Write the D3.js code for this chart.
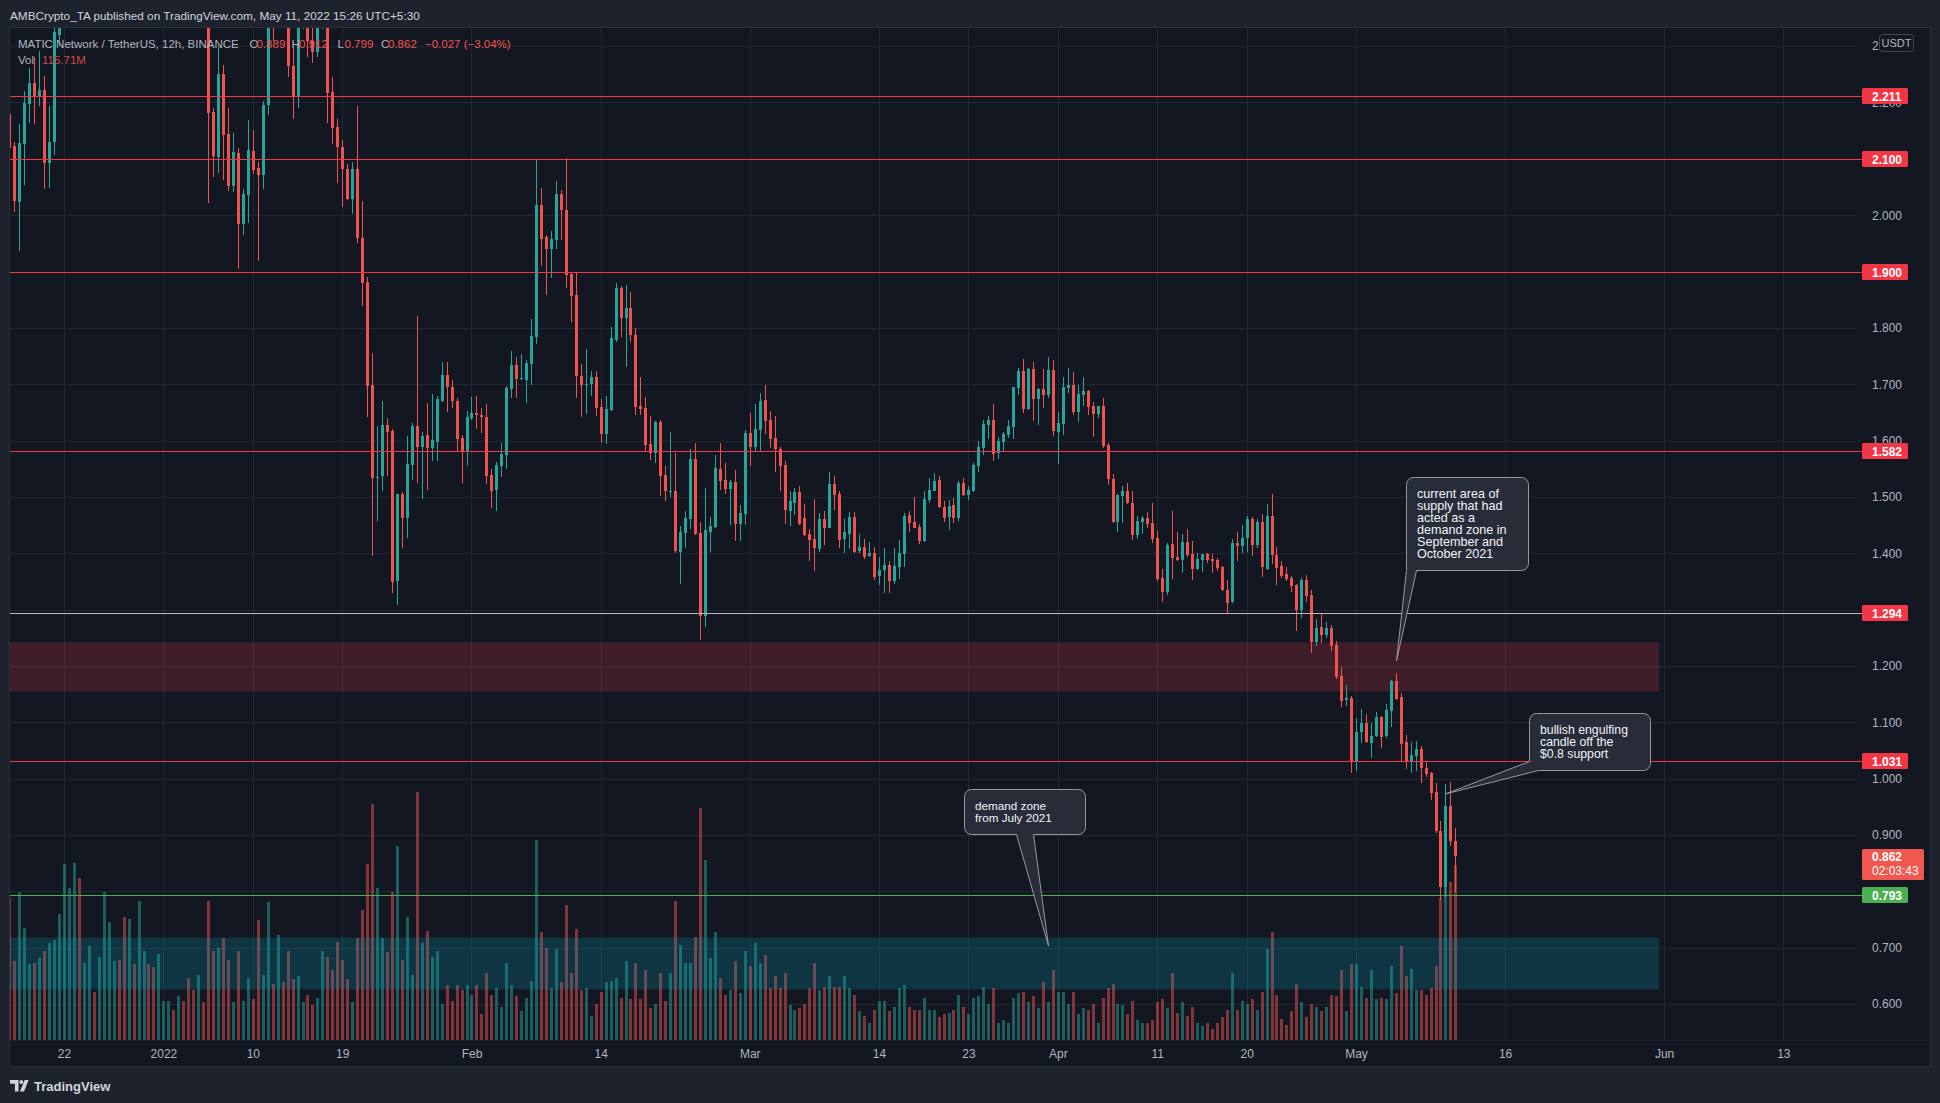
<!DOCTYPE html>
<html>
<head>
<meta charset="utf-8">
<title>MATIC Network / TetherUS, 12h, BINANCE</title>
<script src="https://cdn.jsdelivr.net/npm/d3@7/dist/d3.min.js"></script>
<style>
  html, body { margin:0; padding:0; background:#1e222d; overflow:hidden; }
  svg { display:block; }
  text { font-family: "Liberation Sans", Arial, sans-serif; }
</style>
</head>
<body>
<svg id="chart" width="1940" height="1103"></svg>
<script>
// ================= DATA =================
// 12h bars (Binance, shown in UTC+5:30). First bar: 16 Dec 2021 17:30.
const firstBarUTC = "2021-12-16T12:00:00Z";
const barHours = 12;

const opens = [
2.18,2.123,2.023,2.126,2.197,2.235,2.211,2.222,2.093,2.13,
2.32,2.45,2.48,2.50,2.55,2.53,2.58,2.66,2.63,2.65,
2.70,2.72,2.80,2.66,2.52,2.55,2.44,2.53,2.58,2.54,
2.48,2.52,2.60,2.62,2.57,2.60,2.58,2.51,2.46,2.49,
2.43,2.183,2.103,2.25,2.144,2.052,2.11,1.984,2.036,2.114,
2.083,2.071,2.196,2.39,2.36,2.45,2.43,2.264,2.21,2.38,
2.42,2.31,2.29,2.38,2.40,2.218,2.157,2.121,2.082,2.029,
2.082,1.959,1.881,1.698,1.534,1.537,1.627,1.617,1.35,1.505,
1.462,1.557,1.626,1.588,1.61,1.587,1.598,1.67,1.716,1.695,
1.67,1.604,1.581,1.64,1.649,1.646,1.641,1.539,1.512,1.555,
1.574,1.692,1.735,1.709,1.708,1.736,1.784,2.018,1.961,1.94,
1.956,2.037,2.009,1.895,1.858,1.714,1.698,1.7,1.713,1.659,
1.611,1.654,1.779,1.871,1.817,1.836,1.788,1.661,1.658,1.594,
1.578,1.633,1.539,1.51,1.51,1.402,1.436,1.461,1.567,1.436,
1.289,1.438,1.446,1.549,1.53,1.514,1.527,1.452,1.47,1.613,
1.589,1.618,1.672,1.636,1.604,1.585,1.557,1.475,1.489,1.509,
1.462,1.434,1.425,1.408,1.46,1.445,1.523,1.505,1.425,1.434,
1.464,1.404,1.411,1.395,1.4,1.36,1.37,1.379,1.35,1.375,
1.398,1.468,1.455,1.446,1.421,1.495,1.51,1.53,1.482,1.464,
1.486,1.463,1.525,1.503,1.51,1.555,1.587,1.627,1.636,1.578,
1.597,1.61,1.624,1.693,1.723,1.656,1.727,1.674,1.691,1.681,
1.725,1.615,1.629,1.693,1.698,1.651,1.681,1.688,1.661,1.647,
1.661,1.593,1.532,1.455,1.501,1.51,1.489,1.432,1.455,1.462,
1.453,1.427,1.356,1.331,1.416,1.393,1.388,1.42,1.398,1.372,
1.388,1.398,1.39,1.388,1.375,1.335,1.314,1.418,1.413,1.427,
1.461,1.415,1.455,1.372,1.466,1.397,1.377,1.363,1.356,1.343,
1.299,1.352,1.326,1.242,1.269,1.255,1.267,1.237,1.182,1.14,
1.143,1.031,1.083,1.099,1.064,1.076,1.11,1.076,1.12,1.173,
1.145,1.065,1.031,1.04,1.053,1.019,1.01,0.976,0.908,0.807,
0.951,0.889];

const highs = [
2.19,2.13,2.162,2.22,2.261,2.281,2.291,2.247,2.193,2.335,
2.48,2.52,2.55,2.58,2.62,2.60,2.70,2.72,2.68,2.74,
2.78,2.92,2.84,2.70,2.60,2.58,2.56,2.62,2.64,2.58,
2.56,2.62,2.68,2.66,2.63,2.66,2.62,2.56,2.52,2.53,
2.45,2.19,2.3,2.266,2.19,2.146,2.119,2.046,2.169,2.151,
2.094,2.203,2.41,2.42,2.47,2.48,2.46,2.298,2.4,2.44,
2.43,2.36,2.40,2.42,2.42,2.245,2.171,2.133,2.09,2.094,
2.194,2.026,1.89,1.756,1.626,1.67,1.64,1.62,1.506,1.509,
1.609,1.631,1.822,1.615,1.666,1.682,1.68,1.739,1.739,1.707,
1.675,1.61,1.652,1.677,1.68,1.658,1.665,1.55,1.562,1.596,
1.697,1.759,1.748,1.754,1.743,1.815,2.1,2.048,1.965,1.972,
2.061,2.044,2.101,1.897,1.897,1.736,1.763,1.723,1.723,1.674,
1.679,1.801,1.88,1.874,1.877,1.863,1.799,1.713,1.677,1.643,
1.634,1.636,1.555,1.615,1.578,1.448,1.475,1.585,1.595,1.455,
1.516,1.464,1.574,1.595,1.561,1.53,1.548,1.485,1.619,1.649,
1.665,1.684,1.698,1.653,1.644,1.589,1.564,1.51,1.516,1.519,
1.487,1.443,1.496,1.471,1.475,1.544,1.537,1.51,1.46,1.473,
1.473,1.434,1.425,1.42,1.411,1.393,1.409,1.386,1.409,1.423,
1.471,1.475,1.5,1.452,1.51,1.534,1.542,1.537,1.493,1.494,
1.498,1.528,1.534,1.519,1.56,1.599,1.636,1.643,1.665,1.606,
1.615,1.636,1.695,1.729,1.745,1.729,1.739,1.693,1.727,1.749,
1.743,1.65,1.713,1.729,1.722,1.698,1.713,1.69,1.668,1.661,
1.675,1.595,1.541,1.505,1.519,1.524,1.51,1.466,1.467,1.473,
1.489,1.44,1.372,1.419,1.475,1.437,1.434,1.444,1.421,1.4,
1.398,1.4,1.399,1.391,1.378,1.353,1.425,1.437,1.45,1.466,
1.464,1.46,1.47,1.487,1.505,1.411,1.386,1.375,1.359,1.345,
1.356,1.361,1.335,1.283,1.292,1.278,1.272,1.244,1.198,1.166,
1.147,1.107,1.123,1.115,1.099,1.118,1.112,1.132,1.175,1.187,
1.152,1.077,1.065,1.067,1.058,1.029,1.012,0.992,0.925,0.99,
0.995,0.912];

const lows = [
2.06,2.005,1.936,2.054,2.163,2.162,2.193,2.046,2.048,2.107,
2.30,2.40,2.44,2.45,2.50,2.47,2.55,2.60,2.56,2.62,
2.64,2.70,2.62,2.48,2.45,2.40,2.42,2.50,2.50,2.44,
2.45,2.50,2.55,2.54,2.52,2.55,2.48,2.44,2.42,2.40,
2.021,2.068,2.075,2.062,2.043,2.041,1.904,1.965,1.986,2.073,
1.918,2.046,2.178,2.31,2.34,2.38,2.245,2.171,2.19,2.33,
2.28,2.27,2.28,2.33,2.164,2.126,2.057,2.015,2.027,2.003,
1.95,1.838,1.642,1.396,1.457,1.511,1.537,1.33,1.308,1.41,
1.427,1.53,1.524,1.496,1.512,1.564,1.564,1.668,1.65,1.658,
1.579,1.524,1.555,1.636,1.62,1.613,1.523,1.48,1.475,1.535,
1.55,1.676,1.675,1.708,1.667,1.698,1.771,1.909,1.858,1.888,
1.94,1.956,1.871,1.81,1.675,1.642,1.647,1.679,1.644,1.596,
1.594,1.652,1.775,1.784,1.731,1.775,1.645,1.645,1.58,1.566,
1.56,1.502,1.493,1.5,1.4,1.346,1.409,1.443,1.432,1.246,
1.269,1.402,1.445,1.512,1.505,1.45,1.422,1.422,1.45,1.555,
1.58,1.581,1.611,1.587,1.544,1.51,1.452,1.448,1.468,1.45,
1.43,1.386,1.369,1.402,1.415,1.445,1.477,1.409,1.4,1.407,
1.4,1.4,1.39,1.393,1.353,1.344,1.33,1.33,1.345,1.354,
1.375,1.438,1.445,1.416,1.42,1.49,1.51,1.48,1.456,1.441,
1.454,1.458,1.501,1.495,1.508,1.544,1.574,1.603,1.564,1.567,
1.581,1.604,1.603,1.681,1.649,1.654,1.635,1.628,1.658,1.676,
1.608,1.558,1.61,1.684,1.645,1.633,1.661,1.645,1.606,1.64,
1.587,1.521,1.453,1.438,1.453,1.487,1.424,1.425,1.434,1.445,
1.418,1.351,1.313,1.326,1.354,1.386,1.365,1.393,1.353,1.37,
1.367,1.382,1.365,1.369,1.333,1.294,1.312,1.386,1.4,1.402,
1.395,1.41,1.358,1.37,1.381,1.344,1.356,1.35,1.331,1.262,
1.285,1.313,1.223,1.235,1.24,1.25,1.226,1.177,1.127,1.129,
1.01,1.013,1.063,1.063,1.037,1.074,1.055,1.072,1.092,1.14,
1.031,1.017,1.01,1.014,0.992,1.003,0.962,0.904,0.785,0.79,
0.88,0.799];

const closes = [
2.12,2.025,2.128,2.2,2.235,2.212,2.222,2.092,2.13,2.325,
2.45,2.48,2.50,2.55,2.53,2.58,2.66,2.63,2.65,2.70,
2.72,2.80,2.66,2.52,2.55,2.44,2.53,2.58,2.54,2.48,
2.52,2.60,2.62,2.57,2.60,2.58,2.51,2.46,2.49,2.43,
2.181,2.105,2.25,2.142,2.052,2.112,1.984,2.037,2.115,2.08,
2.071,2.196,2.39,2.36,2.45,2.43,2.265,2.21,2.38,2.42,
2.31,2.29,2.38,2.40,2.217,2.155,2.121,2.082,2.029,2.082,
1.959,1.879,1.697,1.534,1.536,1.627,1.615,1.349,1.505,1.462,
1.558,1.626,1.588,1.608,1.587,1.601,1.674,1.716,1.695,1.67,
1.603,1.581,1.642,1.649,1.646,1.641,1.537,1.511,1.556,1.576,
1.693,1.735,1.709,1.711,1.738,1.785,2.018,1.958,1.94,1.958,
2.037,2.009,1.894,1.857,1.714,1.698,1.7,1.713,1.658,1.611,
1.656,1.782,1.871,1.817,1.836,1.788,1.659,1.656,1.593,1.578,
1.633,1.537,1.511,1.511,1.404,1.438,1.462,1.567,1.434,1.289,
1.441,1.448,1.551,1.528,1.514,1.527,1.452,1.471,1.613,1.589,
1.62,1.67,1.635,1.603,1.585,1.555,1.477,1.493,1.509,1.452,
1.432,1.423,1.409,1.46,1.445,1.523,1.503,1.423,1.438,1.464,
1.402,1.411,1.393,1.4,1.358,1.37,1.379,1.35,1.377,1.4,
1.466,1.454,1.445,1.421,1.496,1.512,1.528,1.482,1.463,1.484,
1.463,1.525,1.504,1.512,1.557,1.589,1.63,1.636,1.576,1.599,
1.611,1.626,1.695,1.723,1.656,1.727,1.674,1.691,1.681,1.725,
1.617,1.631,1.695,1.698,1.651,1.683,1.688,1.66,1.647,1.661,
1.59,1.532,1.455,1.503,1.51,1.489,1.432,1.457,1.462,1.452,
1.425,1.354,1.331,1.415,1.392,1.388,1.42,1.397,1.372,1.39,
1.398,1.388,1.386,1.374,1.335,1.312,1.418,1.413,1.427,1.461,
1.415,1.455,1.376,1.466,1.397,1.374,1.36,1.354,1.342,1.299,
1.352,1.324,1.242,1.267,1.255,1.267,1.235,1.18,1.138,1.143,
1.031,1.083,1.099,1.065,1.076,1.11,1.074,1.122,1.173,1.141,
1.062,1.031,1.042,1.053,1.019,1.008,0.975,0.907,0.807,0.951,
0.889,0.862];

// volume in millions of MATIC
const volumes = [
94,52,98,74,50,51,54,59,64,66,
83,116,100,117,107,51,62,32,55,98,
78,52,53,81,80,50,92,59,50,48,
57,26,26,20,29,26,41,33,43,25,
92,59,61,67,53,25,59,26,41,27,
79,43,91,37,69,38,59,40,42,25,
30,23,28,59,55,46,65,53,40,25,
67,86,116,156,100,67,58,98,128,53,
81,43,164,64,72,55,59,24,36,26,
36,33,36,30,36,17,44,30,34,22,
51,36,29,19,28,39,132,71,61,34,
60,38,89,44,73,33,34,16,24,32,
38,39,41,28,52,27,51,27,46,21,
24,44,26,44,92,63,51,51,68,153,
119,54,71,41,30,33,52,31,59,49,
64,51,56,34,42,34,44,23,20,21,
24,34,51,33,35,42,35,35,42,34,
30,19,16,11,20,26,26,19,22,34,
36,22,20,20,28,20,20,15,17,18,
20,30,22,17,28,29,35,24,34,11,
13,11,28,31,32,25,29,21,38,25,
46,32,32,24,32,17,21,20,24,11,
28,34,37,24,23,17,26,13,11,11,
13,25,27,21,44,18,25,16,22,11,
9,11,7,11,15,20,44,20,26,24,
27,20,32,60,71,30,14,10,19,37,
25,15,24,22,19,22,30,29,46,19,
50,50,35,28,46,27,28,27,49,31,
62,42,47,33,33,30,34,49,94,132,
104,115.71];

const timeTickDates = ["2021-12-22","2022-01-01","2022-01-10","2022-01-19","2022-02-01","2022-02-14",
  "2022-03-01","2022-03-14","2022-03-23","2022-04-01","2022-04-11","2022-04-20","2022-05-01",
  "2022-05-16","2022-06-01","2022-06-13"];
const timeTickLabels = ["22","2022","10","19","Feb","14","Mar","14","23","Apr","11","20","May","16","Jun","13"];

const priceTicks = [0.6,0.7,0.8,0.9,1.0,1.1,1.2,1.3,1.4,1.5,1.6,1.7,1.8,1.9,2.0,2.1,2.2,2.3];

const resistanceLevels = [2.211, 2.100, 1.900, 1.582, 1.294, 1.031];
const supportLevels = [0.793];

const supplyZone = [1.155, 1.242];
const demandZone = [0.626, 0.718];
const zoneEndDate = "2022-05-31T12:00:00Z";

const lastPrice = 0.862;
const countdown = "02:03:43";

const header = "AMBCrypto_TA published on TradingView.com, May 11, 2022 15:26 UTC+5:30";
const symbolTitle = "MATIC Network / TetherUS, 12h, BINANCE";
const ohlcKeys = ["O","H","L","C"];
const ohlcValues = ["0.889","0.912","0.799","0.862"];
const changeLegend = "\u22120.027 (\u22123.04%)";
const volLegend = "115.71M";

const annotations = [
  {lines:["current area of","supply that had","acted as a","demand zone in","September and","October 2021"], barDate:"2022-05-05T00:00:00Z", price:1.209},
  {lines:["bullish engulfing","candle off the","$0.8 support"], barDate:"2022-05-10T00:00:00Z", price:0.973},
  {lines:["demand zone","from July 2021"], barDate:"2022-03-31T00:00:00Z", price:0.703}
];

// ================= LAYOUT / STYLE =================
const UP = "#26a69a", DOWN = "#ef5350";
const VUP = "rgba(38,166,154,0.5)", VDOWN = "rgba(239,83,80,0.5)";
const plot = {left:10, top:28, right:1856, bottom:1040};
const svg = d3.select("#chart");

const t0 = new Date(firstBarUTC).getTime();
const bars = opens.map((o,i)=>({
  t: new Date(t0 + i*barHours*3600e3), o, h:highs[i], l:lows[i], c:closes[i], v:volumes[i]
}));

const x = d3.scaleUtc()
  .domain([new Date("2021-12-22T00:00:00Z"), new Date("2022-05-01T00:00:00Z")])
  .range([64, 1356]);
const y = d3.scaleLinear().domain([1, 2]).range([778.7, 215.2]);
const yv = d3.scaleLinear().domain([0, 165]).range([plot.bottom, plot.bottom - 250]);

function fitWidth(sel, target){
  const w = sel.node().getComputedTextLength();
  const fs = parseFloat(sel.attr("font-size"));
  if (w > 0) sel.attr("font-size", fs*target/w);
  return parseFloat(sel.attr("font-size"));
}

// backgrounds
svg.append("rect").attr("width",1940).attr("height",1103).attr("fill","#1e222d");
svg.append("rect").attr("x",9.5).attr("y",27.5).attr("width",1921).attr("height",1039)
  .attr("fill","#131722").attr("stroke","#2a2e39").attr("stroke-width",1);

svg.append("defs").append("clipPath").attr("id","plotclip")
  .append("rect").attr("x",plot.left).attr("y",plot.top)
  .attr("width",plot.right-plot.left).attr("height",plot.bottom-plot.top);

// grid
const grid = svg.append("g").attr("clip-path","url(#plotclip)")
  .attr("stroke","#232733").attr("stroke-width",1).attr("shape-rendering","crispEdges");
grid.selectAll(".hg").data(priceTicks).join("line")
  .attr("x1",plot.left).attr("x2",plot.right)
  .attr("y1",d=>Math.round(y(d))+0.5).attr("y2",d=>Math.round(y(d))+0.5);
const tickDatesObj = timeTickDates.map(s=>new Date(s+"T00:00:00Z"));
grid.selectAll(".vg").data(tickDatesObj).join("line")
  .attr("y1",plot.top).attr("y2",plot.bottom)
  .attr("x1",d=>Math.round(x(d))+0.5).attr("x2",d=>Math.round(x(d))+0.5);

const main = svg.append("g").attr("clip-path","url(#plotclip)");
const cx = d => Math.round(x(d.t));
const isUp = d => d.c >= d.o;

// volume
main.append("g").attr("shape-rendering","crispEdges")
  .selectAll("rect").data(bars).join("rect")
  .attr("x", d=>cx(d)-1).attr("width",3)
  .attr("y", d=>yv(d.v)).attr("height", d=>plot.bottom - yv(d.v))
  .attr("fill", d=> isUp(d) ? VUP : VDOWN);

// zones
const zoneX0 = plot.left, zoneX1 = x(new Date(zoneEndDate));
main.append("rect").attr("x",zoneX0).attr("width",zoneX1-zoneX0)
  .attr("y",y(supplyZone[1])).attr("height",y(supplyZone[0])-y(supplyZone[1]))
  .attr("fill","#f23645").attr("fill-opacity",0.2);
main.append("rect").attr("x",zoneX0).attr("width",zoneX1-zoneX0)
  .attr("y",y(demandZone[1])).attr("height",y(demandZone[0])-y(demandZone[1]))
  .attr("fill","#00acc1").attr("fill-opacity",0.2);

// level lines
const levelG = svg.append("g").attr("shape-rendering","crispEdges");
levelG.selectAll(".res").data(resistanceLevels).join("line")
  .attr("x1",plot.left).attr("x2",1862)
  .attr("y1",d=>Math.round(y(d))+0.5).attr("y2",d=>Math.round(y(d))+0.5)
  .attr("stroke",d=> d===1.294 ? "#c9b3b7" : "#f23645").attr("stroke-width",1);
levelG.selectAll(".sup").data(supportLevels).join("line")
  .attr("x1",plot.left).attr("x2",1862)
  .attr("y1",d=>Math.round(y(d))+0.5).attr("y2",d=>Math.round(y(d))+0.5)
  .attr("stroke","#4caf50").attr("stroke-width",1);

// candles
const cg = main.append("g").attr("shape-rendering","crispEdges");
cg.selectAll(".wick").data(bars).join("rect")
  .attr("x", d=>cx(d)).attr("width",1)
  .attr("y", d=>y(d.h)).attr("height", d=>Math.max(1, y(d.l)-y(d.h)))
  .attr("fill", d=> isUp(d) ? UP : DOWN);
cg.selectAll(".body").data(bars).join("rect")
  .attr("x", d=>cx(d)-1).attr("width",3)
  .attr("y", d=>y(Math.max(d.o,d.c))).attr("height", d=>Math.max(1, Math.abs(y(d.o)-y(d.c))))
  .attr("fill", d=> isUp(d) ? UP : DOWN);

// callouts
const calloutLayout = [
  {dx:9,  dy:-184, w:122, h:93, tail:"bl",     firstLineWidth:82},
  {dx:83, dy:-81,  w:121, h:57, tail:"corner", firstLineWidth:88},
  {dx:-85,dy:-157, w:121, h:45, tail:"bottom", ta:52, tb:69, firstLineWidth:71}
];
const ag = svg.append("g");
annotations.forEach((a,i)=>{
  const L = calloutLayout[i];
  const tx = Math.round(x(new Date(a.barDate)))+0.5, ty = y(a.price);
  const x0 = Math.round(tx + L.dx)+0.5, y0 = Math.round(ty + L.dy)+0.5, x1 = x0 + L.w, y1 = y0 + L.h, r = 7;
  const p = d3.path();
  p.moveTo(x0+r, y0);
  p.lineTo(x1-r, y0); p.arcTo(x1, y0, x1, y0+r, r);
  p.lineTo(x1, y1-r); p.arcTo(x1, y1, x1-r, y1, r);
  if (L.tail === "bl") {
    p.lineTo(x0+10, y1); p.lineTo(tx, ty); p.lineTo(x0, y1);
  } else if (L.tail === "corner") {
    p.lineTo(x0+9, y1); p.lineTo(tx, ty); p.lineTo(x0, y1-9);
  } else {
    p.lineTo(x0+L.tb, y1); p.lineTo(tx, ty); p.lineTo(x0+L.ta, y1);
    p.lineTo(x0+r, y1); p.arcTo(x0, y1, x0, y1-r, r);
  }
  p.lineTo(x0, y0+r); p.arcTo(x0, y0, x0+r, y0, r);
  p.closePath();
  ag.append("path").attr("d", p.toString())
    .attr("fill","#2a2e39").attr("fill-opacity",0.96)
    .attr("stroke","#9598a1").attr("stroke-width",1);
  const tg = ag.append("g");
  const texts = tg.selectAll("text").data(a.lines).join("text")
    .attr("x", x0+10.5).attr("y",(d,j)=> y0 + 16 + j*12 + 4)
    .attr("font-family","'DejaVu Sans', Verdana, sans-serif")
    .attr("font-size",11).attr("fill","#f0f3fa").text(d=>d);
  const fs = fitWidth(d3.select(texts.nodes()[0]), L.firstLineWidth);
  texts.attr("font-size", fs);
});

// price axis
const pAxis = svg.append("g").attr("transform",`translate(${plot.right},0)`)
  .call(d3.axisRight(y).tickValues(priceTicks).tickFormat(d3.format(".3f")).tickSize(0).tickPadding(16));
pAxis.select(".domain").remove();
pAxis.selectAll("text").attr("fill","#b2b5be").attr("font-size",12)
  .attr("font-family","'Liberation Sans', Arial, sans-serif");

// USDT badge
svg.append("rect").attr("x",1879.5).attr("y",34.5).attr("width",34).attr("height",17).attr("rx",3)
  .attr("fill","#131722").attr("stroke","#434651");
svg.append("text").attr("x",1896.5).attr("y",47).attr("text-anchor","middle")
  .attr("font-size",11).attr("fill","#b2b5be").text("USDT");

// level labels
const labG = svg.append("g");
const addLabel = (v, fill) => {
  const yy = Math.round(y(v));
  labG.append("rect").attr("x",1862).attr("y",yy-8).attr("width",46).attr("height",16).attr("rx",1.5).attr("fill",fill);
  labG.append("text").attr("x",1872).attr("y",yy+4.5).attr("font-size",12).attr("font-weight","bold")
    .attr("fill","#ffffff").text(d3.format(".3f")(v));
};
resistanceLevels.forEach(v=>addLabel(v,"#f23645"));
supportLevels.forEach(v=>addLabel(v,"#4caf50"));
{
  const yy = Math.round(y(lastPrice));
  labG.append("rect").attr("x",1862).attr("y",yy-7).attr("width",62).attr("height",31).attr("rx",1.5).attr("fill","#f0574f");
  labG.append("text").attr("x",1872).attr("y",yy+5).attr("font-size",12).attr("font-weight","bold").attr("fill","#fff").text(d3.format(".3f")(lastPrice));
  labG.append("text").attr("x",1872).attr("y",yy+19).attr("font-size",12).attr("fill","#fff").text(countdown);
}

// time axis
svg.append("line").attr("x1",plot.left).attr("x2",1930).attr("y1",plot.bottom+0.5).attr("y2",plot.bottom+0.5)
  .attr("stroke","#1c202b");
const tAxis = svg.append("g").attr("transform",`translate(0,${plot.bottom})`)
  .call(d3.axisBottom(x).tickValues(tickDatesObj).tickFormat((d,i)=>timeTickLabels[i]).tickSize(0).tickPadding(9));
tAxis.select(".domain").remove();
tAxis.selectAll("text").attr("fill","#b2b5be").attr("font-size",12)
  .attr("font-family","'Liberation Sans', Arial, sans-serif");

// header
const ht = svg.append("text").attr("x",10).attr("y",19.5).attr("font-size",13)
  .attr("fill","#d1d4dc").attr("font-family","'Open Sans', 'Liberation Sans', sans-serif").text(header);
fitWidth(ht, 410);

// legend (symbol title, then OHLC values at their places)
const LF = "'Open Sans', 'Liberation Sans', sans-serif";
const title = svg.append("text").attr("x",18).attr("y",47.5).attr("font-size",12.5)
  .attr("font-family",LF).attr("fill","#b2b5be").text(symbolTitle);
const lfs = fitWidth(title, 221);
const keyX = [249.5, 291.5, 337.5, 381];
const valX = [256.5, 299, 344.5, 388];
ohlcKeys.forEach((k,i)=>{
  svg.append("text").attr("x",keyX[i]).attr("y",47.5).attr("font-size",lfs).attr("font-family",LF)
    .attr("fill","#b2b5be").text(k);
  svg.append("text").attr("x",valX[i]).attr("y",47.5).attr("font-size",lfs).attr("font-family",LF)
    .attr("fill","#ef5350").text(ohlcValues[i]);
});
svg.append("text").attr("x",425).attr("y",47.5).attr("font-size",lfs).attr("font-family",LF)
  .attr("fill","#ef5350").text(changeLegend);
svg.append("text").attr("x",18).attr("y",64).attr("font-size",lfs).attr("font-family",LF)
  .attr("fill","#b2b5be").text("Vol");
svg.append("text").attr("x",42).attr("y",64).attr("font-size",lfs).attr("font-family",LF)
  .attr("fill","#d2484a").text(volLegend);

// footer logo
const fg = svg.append("g").attr("fill","#d1d4dc");
fg.append("path").attr("d","M10 1080 h8.5 v11.5 h-3.6 v-7.8 h-4.9 z");
fg.append("circle").attr("cx",21.3).attr("cy",1082).attr("r",1.9);
fg.append("path").attr("d","M24.6 1080 h4 l-4.6 11.5 h-4 z");
svg.append("text").attr("x",34).attr("y",1090.5).attr("font-size",13).attr("font-weight","bold")
  .attr("fill","#d1d4dc").attr("font-family",LF).text("TradingView");
</script>
</body>
</html>
